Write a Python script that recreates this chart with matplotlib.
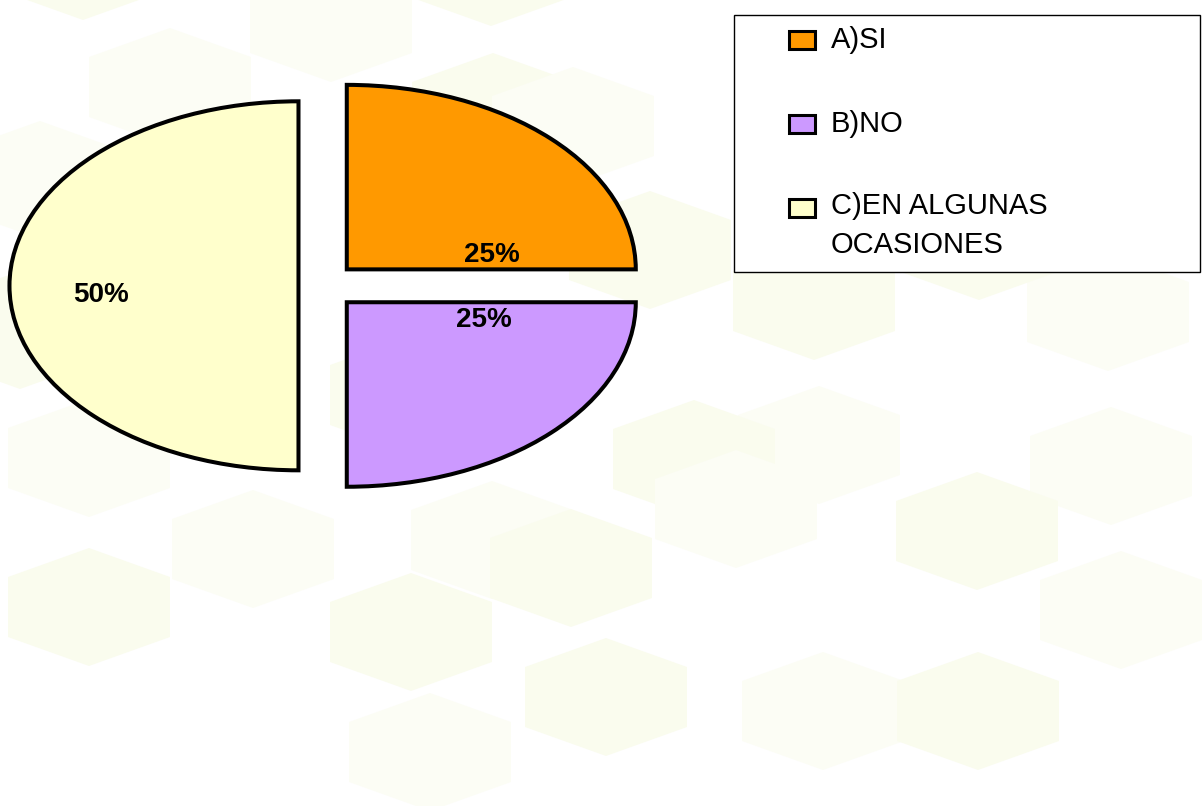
import matplotlib
matplotlib.use("Agg")
import matplotlib.pyplot as plt
from matplotlib.patches import Polygon, Rectangle

# ---- data ----
categories = ["A)SI", "B)NO", "C)EN ALGUNAS\nOCASIONES"]
values = [25, 25, 50]
colors = ["#FF9900", "#CC99FF", "#FFFFCC"]
explode = [0.126, 0.126, 0.078]
# label anchor positions (data coords, baseline) as placed in the original chart
label_pos = [(0.592, 0.131), (0.562, -0.222), (-0.760, -0.086)]

# decorative background hexagon centres (pixel coords, y downwards)
hex_centres = [(83, -39), (331, 23), (491, -33), (170, 87), (493, 112), (573, 126),
               (814, 301), (1108, 312), (979, 241), (819, 445), (694, 459),
               (1111, 466), (977, 531), (89, 458), (89, 607), (253, 549),
               (411, 395), (492, 540), (571, 568), (736, 509), (411, 632),
               (430, 752), (606, 697), (823, 711), (978, 711), (1121, 610),
               (650, 250), (40, 180), (20, 330)]

W, H = 1202, 806
plt.rcParams['font.family'] = ['Liberation Sans', 'DejaVu Sans']
fig = plt.figure(figsize=(W / 100, H / 100), dpi=100)
fig.patch.set_facecolor("white")


def px(x, y):
    return (x / W, 1 - y / H)


# background hexagons
for i, (cx, cy) in enumerate(hex_centres):
    hw, s, v = 81, 29, 30
    pts = [(cx, cy - s - v), (cx + hw, cy - v), (cx + hw, cy + v),
           (cx, cy + s + v), (cx - hw, cy + v), (cx - hw, cy - v)]
    fc = "#FAFCEE" if i % 2 == 0 else "#FCFDF5"
    fig.add_artist(Polygon([px(*p) for p in pts], closed=True, facecolor=fc,
                           edgecolor="none", transform=fig.transFigure, zorder=-5))

# pie
ax = fig.add_axes([0.0026, 0.3707, 0.553, 0.5494])
wedges, _ = ax.pie(values, explode=explode, colors=colors, startangle=90,
                   counterclock=False,
                   wedgeprops=dict(edgecolor="black", linewidth=2.9))
ax.set_aspect("auto")
ax.set_xlim(-1.1, 1.2)
ax.set_ylim(-1.2, 1.2)
ax.axis("off")
ax.patch.set_visible(False)

total = sum(values)
for v, (lx, ly) in zip(values, label_pos):
    ax.text(lx, ly, f"{v / total * 100:.0f}%", ha="center", va="baseline",
            fontsize=20, fontweight="bold", color="black")

# legend (manual, matches the original layout)
x0, y0 = px(734, 272)
x1, y1 = px(1200, 15)
fig.add_artist(Rectangle((x0, y0), x1 - x0, y1 - y0, transform=fig.transFigure,
                         facecolor="white", edgecolor="black", linewidth=1.0, zorder=1))
entry_y = [40, 124, 208]
last_baselines = [48.3, 131.7, 253.3]
for cat, col, ey, bl in zip(categories, colors, entry_y, last_baselines):
    rx0, ry0 = px(789, ey + 9)
    rx1, ry1 = px(815, ey - 9)
    fig.add_artist(Rectangle((rx0, ry0), rx1 - rx0, ry1 - ry0, transform=fig.transFigure,
                             facecolor=col, edgecolor="black", linewidth=2.2, zorder=2))
    tx, ty = px(831, bl)
    fig.text(tx, ty, cat, ha="left", va="baseline", fontsize=21, color="black",
             linespacing=1.5, zorder=3)

fig.savefig("out.png", dpi=100)
